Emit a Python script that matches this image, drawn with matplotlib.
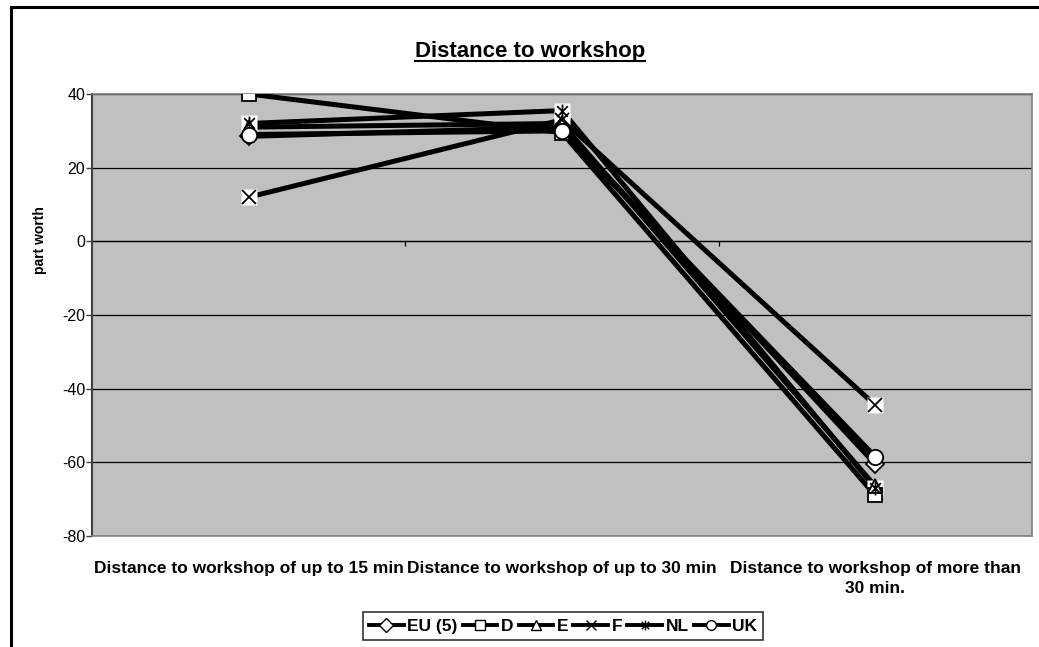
import numpy as np
import matplotlib.pyplot as plt
from matplotlib.path import Path
from matplotlib.lines import Line2D
from matplotlib.patches import Rectangle

plt.rcParams['font.family'] = ['Liberation Sans', 'DejaVu Sans']

# data
categories = ['Distance to workshop of up to 15 min',
              'Distance to workshop of up to 30 min',
              'Distance to workshop of more than\n30 min.']
series_names = ['EU (5)', 'D', 'E', 'F', 'NL', 'UK']
eu5 = [28.5, 31.0, -60.5]
d = [40.0, 29.5, -69.0]
e = [31.0, 32.0, -66.5]
f = [12.0, 33.0, -44.5]
nl = [32.0, 35.5, -67.0]
uk = [29.0, 30.0, -58.5]
yticks = [-80, -60, -40, -20, 0, 20, 40]

# excel style asterisk: x with vertical bar
star = Path([(-1, -1), (1, 1), (-1, 1), (1, -1), (0, -1.3), (0, 1.3)],
            [Path.MOVETO, Path.LINETO, Path.MOVETO, Path.LINETO, Path.MOVETO, Path.LINETO])

styles = {
	'EU (5)': dict(marker='D', ms=9, white_box=False),
	'D': dict(marker='s', ms=10.5, white_box=False),
	'E': dict(marker='^', ms=10.5, white_box=False),
	'F': dict(marker='x', ms=10, white_box=True),
	'NL': dict(marker=star, ms=10, white_box=True),
	'UK': dict(marker='o', ms=11, white_box=False),
}
values = [eu5, d, e, f, nl, uk]

fig = plt.figure(figsize=(10.39, 6.47), dpi=100)
ax = fig.add_axes([92/1039, 1-536/647, 940/1039, 442/647])
ax.set_facecolor('#c0c0c0')

x = np.arange(len(categories))
handles = []
for name, vals in zip(series_names, values):
	ax.plot(x, vals, '-', color='black', lw=3.6, zorder=3, solid_capstyle='butt')
for name, vals in zip(series_names, values):
	st = styles[name]
	if st['white_box']:
		ax.plot(x, vals, 's', color='white', ms=st['ms'] + 1, mec='none', zorder=4)
	ax.plot(x, vals, linestyle='none', marker=st['marker'], ms=st['ms'],
	        mfc='white', mec='black', mew=1.3, zorder=5)
	handles.append(Line2D([], [], color='black', lw=2.8, marker=st['marker'],
	                      ms=7, mfc='white', mec='black', mew=1.0))

ax.set_xlim(-0.5, 2.5)
ax.set_ylim(-80, 40)
ax.set_yticks(yticks)
ax.set_yticklabels([str(v) for v in yticks], fontsize=11.5)
ax.yaxis.grid(True, color='black', lw=0.9)
ax.set_axisbelow(True)
ax.tick_params(axis='y', direction='out', length=4, width=1, color='#404040', pad=1)

ax.set_xticks(x)
ax.set_xticklabels(categories, fontsize=12.5, fontweight='bold', linespacing=1.45)
ax.tick_params(axis='x', length=0, pad=18)

# category axis crosses at zero with boundary ticks
ax.axhline(0, color='black', lw=0.9, zorder=2)
ax.vlines([0.5, 1.5], -1.2, 0, color='black', lw=0.9, zorder=2)

for side in ['top', 'right', 'bottom']:
	ax.spines[side].set_color('#808080')
	ax.spines[side].set_linewidth(1.2)
ax.spines['left'].set_color('#404040')
ax.spines['left'].set_linewidth(1.5)

fig.text(40/1039, 1-240/647, 'part worth', rotation=90, ha='center', va='center',
         fontsize=10, fontweight='bold')

title = fig.text(530/1039, 1-52/647, 'Distance to workshop', ha='center', va='center',
                 fontsize=16, fontweight='bold')

leg = fig.legend(handles, series_names, loc='center', bbox_to_anchor=(563/1039, 1-626/647),
                 ncol=6, frameon=True, fancybox=False, edgecolor='black',
                 prop={'weight': 'bold', 'size': 12.5}, handlelength=2.0,
                 handletextpad=0.2, columnspacing=0.3, borderpad=0.35, borderaxespad=0)
leg.get_frame().set_linewidth(1.2)

# outer chart frame
fig.patches.append(Rectangle((11/1039, -0.2), 1.2, 1.2 - 7/647, transform=fig.transFigure,
                             fill=False, edgecolor='black', lw=2.2))

# underline the title
fig.canvas.draw()
bb = title.get_window_extent().transformed(fig.transFigure.inverted())
fig.add_artist(Line2D([bb.x0, bb.x1], [bb.y0 + 0.003, bb.y0 + 0.003], color='black',
                      lw=1.5, transform=fig.transFigure))

fig.savefig('out.png', dpi=100)
